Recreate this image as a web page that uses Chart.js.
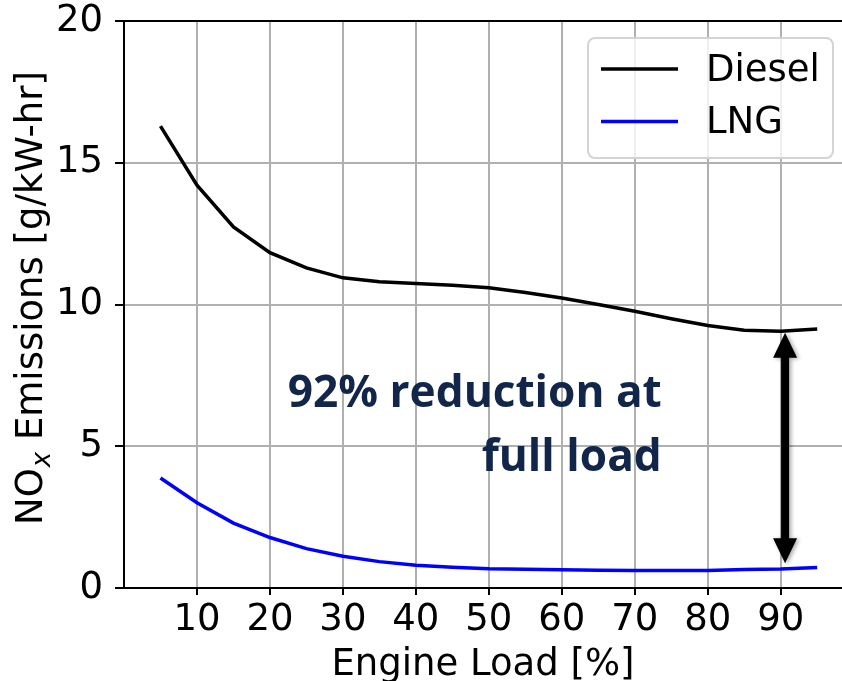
<!DOCTYPE html>
<html>
<head>
<meta charset="utf-8">
<script src="https://cdn.jsdelivr.net/npm/chart.js@4.4.1/dist/chart.umd.min.js"></script>
<style>
  html, body { margin: 0; padding: 0; background: #fff; }
  #wrap { width: 842px; height: 681px; }
</style>
</head>
<body>
<div id="wrap"><canvas id="noxChart" width="842" height="681"></canvas></div>
<script>
// engine load [%]
const loads = [5, 10, 15, 20, 25, 30, 35, 40, 45, 50, 55, 60, 65, 70, 75, 80, 85, 90, 95];
// NOx [g/kW-hr]
const dieselNox = [16.29, 14.21, 12.74, 11.83, 11.29, 10.94, 10.80, 10.74, 10.68, 10.59, 10.42, 10.23, 10.00, 9.76, 9.50, 9.26, 9.09, 9.06, 9.14];
const lngNox = [3.88, 3.01, 2.29, 1.78, 1.39, 1.12, 0.93, 0.80, 0.73, 0.68, 0.66, 0.64, 0.63, 0.62, 0.62, 0.62, 0.65, 0.67, 0.72];

const xTicks = [10, 20, 30, 40, 50, 60, 70, 80, 90];
const yTicks = [0, 5, 10, 15, 20];

const seriesNames = ['Diesel', 'LNG'];
const noteLines = ['92% reduction at', 'full load'];

const FONT = "'DejaVu Sans', sans-serif";
const FS = 37;

// 自定义：y轴标题（带下标）、上边框、图例框、注释和双箭头
const extrasPlugin = {
  id: 'extras',
  afterDatasetsDraw(chart) {
    const { ctx, chartArea: a, scales: { x, y } } = chart;

    // top spine
    ctx.save();
    ctx.strokeStyle = '#000';
    ctx.lineWidth = 2;
    ctx.beginPath();
    ctx.moveTo(a.left - 1, a.top);
    ctx.lineTo(a.right, a.top);
    ctx.stroke();
    ctx.restore();

    // double arrow at full load
    const ax = x.getPixelForValue(90.6);
    const yTop = y.getPixelForValue(9.0);
    const yBot = y.getPixelForValue(0.87);
    const headH = 25, headW = 12, shaft = 4;
    ctx.save();
    ctx.shadowColor = 'rgba(0,0,0,0.35)';
    ctx.shadowBlur = 4;
    ctx.shadowOffsetX = 2;
    ctx.shadowOffsetY = 1;
    ctx.fillStyle = '#000';
    ctx.beginPath();
    ctx.moveTo(ax, yTop);
    ctx.lineTo(ax + headW, yTop + headH);
    ctx.lineTo(ax + shaft, yTop + headH);
    ctx.lineTo(ax + shaft, yBot - headH);
    ctx.lineTo(ax + headW, yBot - headH);
    ctx.lineTo(ax, yBot);
    ctx.lineTo(ax - headW, yBot - headH);
    ctx.lineTo(ax - shaft, yBot - headH);
    ctx.lineTo(ax - shaft, yTop + headH);
    ctx.lineTo(ax - headW, yTop + headH);
    ctx.closePath();
    ctx.fill();
    ctx.restore();

    // annotation text (narrowed bold sans, like Calibri)
    ctx.save();
    ctx.fillStyle = '#112648';
    ctx.font = "bold 44px 'Open Sans', Lato, sans-serif";
    ctx.textAlign = 'right';
    ctx.textBaseline = 'alphabetic';
    const tx = x.getPixelForValue(73.7);
    const sx = 374 / ctx.measureText(noteLines[0]).width;
    ctx.translate(tx, 0);
    ctx.scale(sx, 1);
    ctx.fillText(noteLines[0], 0, y.getPixelForValue(6.38));
    ctx.fillText(noteLines[1], 0, y.getPixelForValue(4.14));
    ctx.restore();

    // legend box
    const bx = a.right - 254, by = a.top + 17, bw = 245, bh = 120, r = 7;
    ctx.save();
    ctx.fillStyle = 'rgba(255,255,255,0.8)';
    ctx.strokeStyle = '#d4d4d4';
    ctx.lineWidth = 2;
    ctx.beginPath();
    ctx.roundRect(bx, by, bw, bh, r);
    ctx.fill();
    ctx.stroke();
    ctx.font = FS + 'px ' + FONT;
    ctx.textBaseline = 'middle';
    ctx.textAlign = 'left';
    chart.data.datasets.forEach((ds, i) => {
      const ly = by + 31 + i * 52.5;
      ctx.strokeStyle = ds.borderColor;
      ctx.lineWidth = 3.5;
      ctx.beginPath();
      ctx.moveTo(bx + 13, ly);
      ctx.lineTo(bx + 90, ly);
      ctx.stroke();
      ctx.fillStyle = '#000';
      ctx.fillText(ds.label, bx + 118, ly + 2);
    });
    ctx.restore();
  },
  afterDraw(chart) {
    // y-axis title: NO_x Emissions [g/kW-hr]
    const { ctx } = chart;
    ctx.save();
    ctx.translate(42, 525);
    ctx.rotate(-Math.PI / 2);
    ctx.fillStyle = '#000';
    ctx.textBaseline = 'alphabetic';
    ctx.textAlign = 'left';
    ctx.font = FS + 'px ' + FONT;
    ctx.fillText('NO', 0, 0);
    let w = ctx.measureText('NO').width;
    ctx.font = 'italic 26px ' + FONT;
    ctx.fillText('x', w + 1, 8);
    w += ctx.measureText('x').width + 1;
    ctx.font = FS + 'px ' + FONT;
    ctx.fillText(' Emissions [g/kW-hr]', w, 0);
    ctx.restore();
  }
};

function renderChart() {
  const ctx = document.getElementById('noxChart').getContext('2d');

  new Chart(ctx, {
    type: 'line',
    data: {
      datasets: [
        {
          label: seriesNames[0],
          data: loads.map((v, i) => ({ x: v, y: dieselNox[i] })),
          borderColor: '#000000',
          borderWidth: 3.5,
          pointRadius: 0,
          tension: 0,
          fill: false
        },
        {
          label: seriesNames[1],
          data: loads.map((v, i) => ({ x: v, y: lngNox[i] })),
          borderColor: '#0000ff',
          borderWidth: 3.5,
          pointRadius: 0,
          tension: 0,
          fill: false
        }
      ]
    },
    options: {
      responsive: false,
      animation: false,
      layout: { padding: { top: 21, right: 0, left: 0, bottom: 0 } },
      plugins: {
        legend: { display: false },
        tooltip: { enabled: false }
      },
      scales: {
        x: {
          type: 'linear',
          min: 0,
          max: 98.4,
          afterBuildTicks: scale => { scale.ticks = xTicks.map(v => ({ value: v })); },
          afterFit: scale => {
            scale.height = 93;
            scale.paddingLeft = 0;
            scale.paddingRight = 0;
          },
          grid: {
            color: '#b0b0b0',
            lineWidth: 2,
            tickColor: '#000',
            tickWidth: 2,
            tickLength: 7
          },
          border: { color: '#000', width: 2 },
          ticks: {
            color: '#000',
            padding: 3,
            maxRotation: 0,
            font: { family: FONT, size: FS }
          },
          title: {
            display: true,
            text: 'Engine Load [%]',
            color: '#000',
            font: { family: FONT, size: FS, lineHeight: 1 },
            padding: { top: 0, bottom: -3 }
          }
        },
        y: {
          min: 0,
          max: 20,
          afterBuildTicks: scale => { scale.ticks = yTicks.map(v => ({ value: v })); },
          afterFit: scale => {
            scale.width = 124;
            scale.paddingTop = 0;
            scale.paddingBottom = 0;
          },
          grid: {
            color: '#b0b0b0',
            lineWidth: 2,
            tickColor: '#000',
            tickWidth: 2,
            tickLength: 9
          },
          border: { color: '#000', width: 2 },
          ticks: {
            color: '#000',
            padding: 12,
            font: { family: FONT, size: FS }
          }
        }
      }
    },
    plugins: [extrasPlugin]
  });
}

document.addEventListener('DOMContentLoaded', renderChart);
</script>
</body>
</html>
